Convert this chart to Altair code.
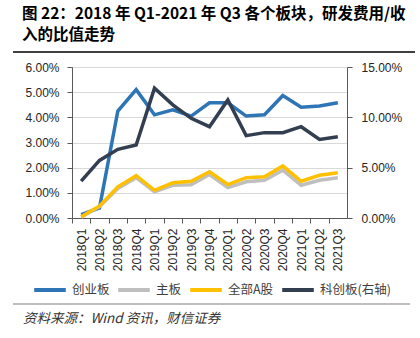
import altair as alt
import pandas as pd

quarters = ["2018Q1", "2018Q2", "2018Q3", "2018Q4", "2019Q1", "2019Q2", "2019Q3", "2019Q4",
            "2020Q1", "2020Q2", "2020Q3", "2020Q4", "2021Q1", "2021Q2", "2021Q3"]
# values in percent
chuangye = [0.13, 0.40, 4.25, 5.10, 4.10, 4.30, 4.05, 4.58, 4.58, 4.05, 4.10, 4.87, 4.40, 4.45, 4.58]
zhuban = [0.03, 0.45, 1.17, 1.60, 1.04, 1.30, 1.32, 1.73, 1.21, 1.44, 1.50, 1.90, 1.30, 1.50, 1.60]
quanbu_a = [0.05, 0.48, 1.24, 1.68, 1.10, 1.40, 1.46, 1.84, 1.33, 1.60, 1.64, 2.07, 1.46, 1.70, 1.80]
kechuang = [3.66, 5.72, 6.82, 7.25, 12.90, 11.24, 9.90, 9.07, 11.73, 8.18, 8.48, 8.48, 9.07, 7.81, 8.08]

series_names = ["创业板", "主板", "全部A股", "科创板(右轴)"]
series_colors = ["#2E75B6", "#BFBFBF", "#FFC000", "#333F50"]
left_ticks = [0, 0.01, 0.02, 0.03, 0.04, 0.05, 0.06]
right_ticks = [0, 0.05, 0.10, 0.15]

title_line1 = "图 22：2018 年 Q1-2021 年 Q3 各个板块，研发费用/收"
title_line2 = "入的比值走势"
source_text = "资料来源：Wind 资讯，财信证券"

rows = []
for name, vals in zip(series_names[:3], [chuangye, zhuban, quanbu_a]):
    for q, v in zip(quarters, vals):
        rows.append({"quarter": q, "series": name, "value": v / 100})
left_df = pd.DataFrame(rows)
right_df = pd.DataFrame({"quarter": quarters, "series": series_names[3],
                         "value": [v / 100 for v in kechuang]})
one = pd.DataFrame({"k": [0]})

FONT = "Liberation Sans"
CJK = "Noto Sans CJK SC"
AXC = "#595959"
half = 275 / 15 / 2

x_enc = alt.X("quarter:N", sort=quarters, title=None,
              scale=alt.Scale(type="point", padding=0.5),
              axis=alt.Axis(labelAngle=270, labelFont=FONT, labelFontSize=12, labelColor="#262626",
                            tickSize=5, tickOffset=-half, labelOffset=half, grid=False,
                            domainColor=AXC, tickColor=AXC, labelPadding=5))

color_enc = alt.Color("series:N",
                      scale=alt.Scale(domain=series_names, range=series_colors),
                      legend=alt.Legend(orient="none", legendX=-40, legendY=205, direction="horizontal",
                                        title=None, symbolType="stroke", symbolStrokeWidth=4,
                                        symbolSize=1000, labelFont=CJK, labelFontSize=12.5,
                                        labelColor="#404040", columnPadding=0, labelOffset=4))

left = alt.Chart(left_df).mark_line(strokeWidth=3.5).encode(
    x=x_enc,
    y=alt.Y("value:Q", title=None, scale=alt.Scale(domain=[0, 0.06]),
            axis=alt.Axis(values=left_ticks, format=".2%", grid=True, gridColor="#D9D9D9",
                          labelFont=FONT, labelFontSize=12, labelColor="#262626",
                          domainColor=AXC, tickColor=AXC, tickSize=5, labelPadding=8)),
    color=color_enc,
)

right = alt.Chart(right_df).mark_line(strokeWidth=3.5).encode(
    x=x_enc,
    y=alt.Y("value:Q", title=None, scale=alt.Scale(domain=[0, 0.15]),
            axis=alt.Axis(orient="right", values=right_ticks, format=".2%", grid=False,
                          labelFont=FONT, labelFontSize=12, labelColor="#262626",
                          domainColor=AXC, tickColor=AXC, tickSize=5, labelPadding=9)),
    color=color_enc,
)

t1 = alt.Chart(one).mark_text(align="left", baseline="middle", font=CJK, fontSize=15.5,
                              fontWeight="bold", color="#000000").encode(
    x=alt.value(-50), y=alt.value(-53), text=alt.value(title_line1))
t2 = alt.Chart(one).mark_text(align="left", baseline="middle", font=CJK, fontSize=15.5,
                              fontWeight="bold", color="#000000").encode(
    x=alt.value(-50), y=alt.value(-32), text=alt.value(title_line2))
src = alt.Chart(one).mark_text(align="left", baseline="middle", font=CJK, fontSize=13.5,
                               fontStyle="italic", color="#333333").encode(
    x=alt.value(-49), y=alt.value(252), text=alt.value(source_text))
rule_top = alt.Chart(one).mark_rule(color="#000000", strokeWidth=1.5).encode(
    x=alt.value(-59), x2=alt.value(343), y=alt.value(-15))
rule_bot = alt.Chart(one).mark_rule(color="#7F7F7F", strokeWidth=1).encode(
    x=alt.value(-59), x2=alt.value(338), y=alt.value(237))

chart = alt.layer(left, right, t1, t2, src, rule_top, rule_bot).resolve_scale(
    y="independent"
).properties(
    width=275, height=151,
    padding={"left": 72, "top": 67, "right": 73, "bottom": 120},
    autosize=alt.AutoSizeParams(type="none"),
    background="#FFFFFF",
).configure_view(stroke=None)

chart.save("out.html", embed_options={"renderer": "svg", "actions": False})
